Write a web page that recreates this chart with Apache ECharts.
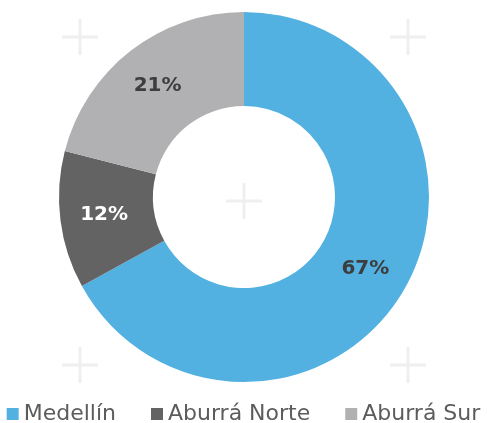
<!DOCTYPE html>
<html>
<head>
<meta charset="utf-8">
<script src="https://cdn.jsdelivr.net/npm/echarts@6/dist/echarts.min.js"></script>
<style>
  html, body { margin: 0; padding: 0; background: #fff; }
  #chart { width: 487px; height: 423px; }
</style>
</head>
<body>
<div id="chart"></div>
<script>
const categories = ['Medellín', 'Aburrá Norte', 'Aburrá Sur']
const values = [67, 12, 21]
const colors = ['#52b1e1', '#636363', '#b1b1b3']
const labelColors = ['#3d3d3d', '#ffffff', '#3d3d3d']

const crossAt = [[80, 37], [408, 37], [244, 201], [80, 365], [408, 365]]

function cross(x, y) {
  const s = { stroke: '#efefef', lineWidth: 3 }
  return [
    { type: 'line', z: -1, shape: { x1: x - 18, y1: y, x2: x + 18, y2: y }, style: s },
    { type: 'line', z: -1, shape: { x1: x, y1: y - 18, x2: x, y2: y + 18 }, style: s }
  ]
}

const chart = echarts.init(document.getElementById('chart'))
chart.setOption({
  animation: false,
  graphic: crossAt.flatMap(p => cross(p[0], p[1])),
  legend: {
    top: 398,
    left: 'center',
    itemWidth: 12,
    itemHeight: 12,
    itemGap: 35,
    icon: 'rect',
    textStyle: { color: '#5c5c5c', fontSize: 22, fontFamily: 'DejaVu Sans' },
    data: categories
  },
  series: [{
    type: 'pie',
    center: [244, 197],
    radius: [91, 185],
    startAngle: 90,
    clockwise: true,
    silent: true,
    label: {
      position: 'inside',
      formatter: '{c}%',
      fontSize: 20,
      fontWeight: 'bold',
      fontFamily: 'DejaVu Sans'
    },
    labelLine: { show: false },
    data: categories.map((name, i) => ({
      name,
      value: values[i],
      itemStyle: { color: colors[i] },
      label: { color: labelColors[i] }
    }))
  }]
})
</script>
</body>
</html>
